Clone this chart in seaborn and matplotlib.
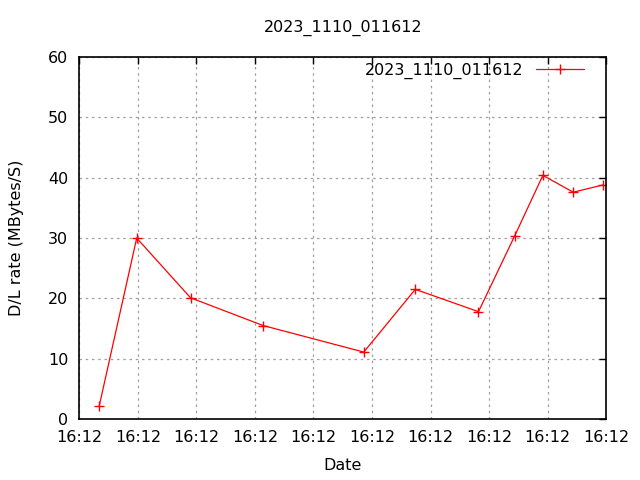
import pandas as pd
import numpy as np
import matplotlib
matplotlib.use("Agg")
import matplotlib.pyplot as plt
import matplotlib.dates as mdates
import seaborn as sns

# sample times (seconds after 16:12:00) and download rates
seconds = [1.7, 4.9, 9.5, 15.7, 24.3, 28.7, 34.1, 37.2, 39.6, 42.2, 44.7]
rates = [2.2, 30.0, 20.1, 15.5, 11.1, 21.5, 17.8, 30.4, 40.4, 37.6, 38.8]
run_name = "2023_1110_011612"

base = pd.Timestamp("2023-11-10 16:12:00")
df = pd.DataFrame({
    "Date": [base + pd.Timedelta(seconds=s) for s in seconds],
    "rate": rates,
    "run": run_name,
})

sns.set_style("white")
plt.rcParams["font.family"] = ["DejaVu Sans"]
plt.rcParams["text.color"] = "black"
plt.rcParams["axes.labelcolor"] = "black"
fs = 11.5

fig = plt.figure(figsize=(6.4, 4.8), dpi=100)
ax = fig.add_axes([0.124, 0.127, 0.823, 0.754])

sns.lineplot(data=df, x="Date", y="rate", hue="run", palette=["#ff0000"],
             marker="+", markersize=7, markeredgewidth=1, linewidth=0.9,
             markeredgecolor="#ff0000", ax=ax)

ax.set_xlim(base, base + pd.Timedelta(seconds=45))
ax.set_ylim(0, 60)
ax.set_yticks(np.arange(0, 61, 10))
ax.xaxis.set_major_locator(mdates.SecondLocator(bysecond=range(0, 60, 5)))
ax.xaxis.set_major_formatter(mdates.DateFormatter("%H:%M"))

ax.grid(True, color="#a0a0a0", linestyle=(0, (2, 3)), linewidth=0.9)
ax.tick_params(direction="in", top=True, right=True, length=5, width=1,
               labelsize=fs, pad=8, colors="black")
for sp in ax.spines.values():
    sp.set_color("black")
    sp.set_linewidth(1.2)

ax.set_xlabel("Date", fontsize=fs, labelpad=9, color="black")
ax.set_ylabel("D/L rate (MBytes/S)", fontsize=fs, labelpad=17, color="black")
ax.set_title(run_name, fontsize=fs, pad=18, color="black")

leg = ax.legend(loc="upper right", bbox_to_anchor=(0.977, 1.01), frameon=False,
                markerfirst=False, fontsize=fs, handlelength=3.0,
                borderaxespad=0.2, handletextpad=0.8)
for t in leg.get_texts():
    t.set_color("black")

fig.savefig("out.png", dpi=100)
